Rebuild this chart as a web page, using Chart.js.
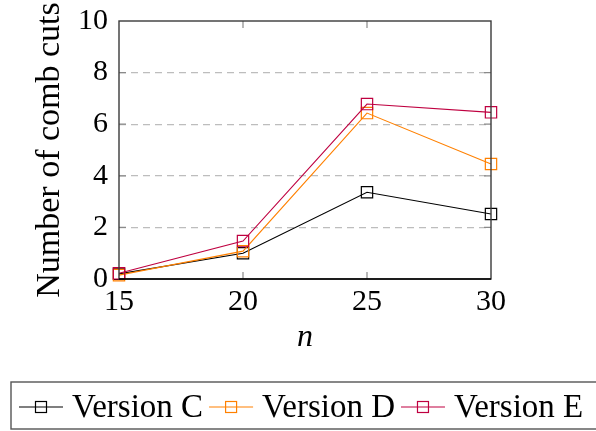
<!DOCTYPE html>
<html>
<head>
<meta charset="utf-8">
<script src="https://cdn.jsdelivr.net/npm/chart.js@4.4.1/dist/chart.umd.min.js"></script>
<style>
html, body { margin: 0; padding: 0; background: #fff; }
canvas { display: block; }
</style>
</head>
<body>
<canvas id="chart" width="596" height="431"></canvas>
<script>
// values
var nValues = [15, 20, 25, 30]
var versionC = [0.2, 1.0, 3.36, 2.52]
var versionD = [0.15, 1.08, 6.43, 4.46]
var versionE = [0.22, 1.47, 6.78, 6.46]
var seriesNames = ['Version C', 'Version D', 'Version E']
var seriesColors = ['#000000', '#ff8000', '#bf0040']
var xTicks = [15, 20, 25, 30]
var yTicks = [0, 2, 4, 6, 8, 10]

var serif = "'Liberation Serif', 'DejaVu Serif', serif"

function points(vals){
    var out = []
    for (var i = 0; i < nValues.length; i++) out.push({x: nValues[i], y: vals[i]})
    return out
}

function makeSet(idx, vals){
    return {
        label: seriesNames[idx],
        data: points(vals),
        borderColor: seriesColors[idx],
        borderWidth: 1.1,
        pointStyle: 'rect',
        pointRadius: 8,
        pointBorderWidth: 1.2,
        pointBorderColor: seriesColors[idx],
        pointBackgroundColor: 'rgba(0,0,0,0)',
        tension: 0,
        clip: false,
        order: 2 - idx
    }
}

// box around the plot, small inward ticks, and the framed legend underneath
var framePlugin = {
    id: 'frame',
    afterDraw: function(chart){
        var ctx = chart.ctx
        var a = chart.chartArea
        var xs = chart.scales.x
        var ys = chart.scales.y
        ctx.save()

        ctx.strokeStyle = '#8a8a8a'
        ctx.lineWidth = 1.2
        xTicks.forEach(function(t){
            if (t == xTicks[0] || t == xTicks[xTicks.length-1]) return
            var px = xs.getPixelForValue(t)
            ctx.beginPath()
            ctx.moveTo(px, a.bottom); ctx.lineTo(px, a.bottom - 7)
            ctx.moveTo(px, a.top); ctx.lineTo(px, a.top + 7)
            ctx.stroke()
        })
        yTicks.forEach(function(t){
            if (t == yTicks[0] || t == yTicks[yTicks.length-1]) return
            var py = ys.getPixelForValue(t)
            ctx.beginPath()
            ctx.moveTo(a.left, py); ctx.lineTo(a.left + 7, py)
            ctx.moveTo(a.right, py); ctx.lineTo(a.right - 7, py)
            ctx.stroke()
        })

        ctx.strokeStyle = '#3a3a3a'
        ctx.lineWidth = 1.4
        ctx.strokeRect(a.left, a.top, a.right - a.left, a.bottom - a.top)
        ctx.strokeStyle = '#000'
        ctx.beginPath()
        ctx.moveTo(a.left, a.bottom); ctx.lineTo(a.right, a.bottom)
        ctx.stroke()

        // legend
        var boxTop = 382, boxH = 47, boxLeft = 11
        ctx.strokeStyle = '#555'
        ctx.lineWidth = 1.4
        ctx.strokeRect(boxLeft, boxTop, 640, boxH)
        ctx.font = '33px ' + serif
        ctx.textBaseline = 'alphabetic'
        ctx.fillStyle = '#000'
        var x = 19
        var lineY = 407
        seriesNames.forEach(function(name, i){
            ctx.strokeStyle = seriesColors[i]
            ctx.lineWidth = 1.2
            ctx.beginPath()
            ctx.moveTo(x, lineY); ctx.lineTo(x + 44, lineY)
            ctx.stroke()
            ctx.strokeRect(x + 22 - 5.5, lineY - 5.5, 11, 11)
            ctx.fillStyle = '#000'
            ctx.fillText(name, x + 53, 417)
            x = x + 53 + ctx.measureText(name).width + 6
        })
        ctx.restore()
    }
}

var chart = new Chart(document.getElementById('chart').getContext('2d'), {
    type: 'line',
    data: {
        datasets: [makeSet(0, versionC), makeSet(1, versionD), makeSet(2, versionE)]
    },
    options: {
        responsive: false,
        animation: false,
        devicePixelRatio: 1,
        layout: { padding: { top: 21, right: 105, bottom: 76, left: 0 } },
        plugins: { legend: { display: false }, tooltip: { enabled: false } },
        scales: {
            x: {
                type: 'linear',
                min: 15, max: 30,
                afterBuildTicks: function(s){ s.ticks = xTicks.map(function(v){ return {value: v} }) },
                afterFit: function(s){ s.height = 76 },
                grid: { display: false, drawTicks: false },
                border: { display: false },
                ticks: { color: '#000', padding: 8, maxRotation: 0, font: { family: serif, size: 30, lineHeight: 1 } },
                title: { display: true, text: 'n', color: '#000', padding: { top: 0, bottom: -2 },
                         font: { family: serif, size: 32, style: 'italic' } }
            },
            y: {
                min: 0, max: 10,
                afterBuildTicks: function(s){ s.ticks = yTicks.map(function(v){ return {value: v} }) },
                afterFit: function(s){ s.width = 119 },
                grid: {
                    drawTicks: false,
                    color: function(c){ return (c.tick && (c.tick.value == 0 || c.tick.value == 10)) ? 'rgba(0,0,0,0)' : '#bdbdbd' },
                    lineWidth: 1.2
                },
                border: { display: false, dash: [7, 5] },
                ticks: { color: '#000', padding: 11, font: { family: serif, size: 30, lineHeight: 0.6 } },
                title: { display: true, text: 'Number of comb cuts', color: '#000', padding: { top: 30, bottom: 0 },
                         font: { family: serif, size: 34 } }
            }
        }
    },
    plugins: [framePlugin]
})
</script>
</body>
</html>
